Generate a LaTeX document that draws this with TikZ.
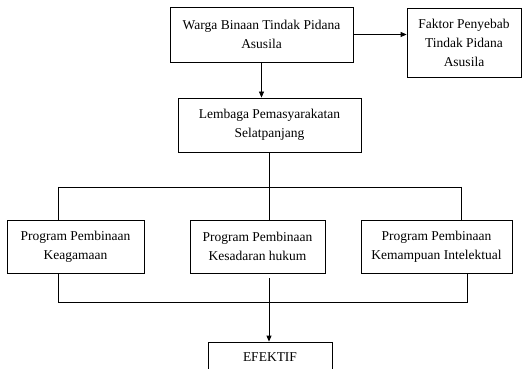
\documentclass[tikz,border=0pt]{standalone}
\usepackage{fontspec}
\setmainfont{Liberation Serif}
\usetikzlibrary{arrows.meta,calc}

\begin{document}
\begin{tikzpicture}[
  x=1pt, y=-1pt,
  box/.style ={draw, line width=0.8pt, align=center, inner sep=0pt,
               font=\fontsize{13.5}{19}\selectfont},
  e/.style   ={-{Triangle[length=6pt,width=5pt]}, line width=0.8pt},
  ln/.style  ={line width=0.8pt},
]
\useasboundingbox (0,0) rectangle (523,369);
% ---------------- top row ----------------
\node[box, minimum width=183pt, minimum height=55pt] (warga)  at (261.5,34.5) {Warga Binaan Tindak Pidana\\Asusila};
\node[box, minimum width=114pt, minimum height=69pt] (faktor) at (464,42.5)   {Faktor Penyebab\\Tindak Pidana\\Asusila};
% ---------------- lembaga ----------------
\node[box, minimum width=183pt, minimum height=54pt] (lembaga) at (269.5,125) {Lembaga Pemasyarakatan\\Selatpanjang};
% ---------------- programs ----------------
\node[box, minimum width=137pt, minimum height=53pt] (agama)  at (75.5,246.5)  {Program Pembinaan\\Keagamaan};
\node[box, minimum width=135pt, minimum height=53pt] (hukum)  at (257.5,246.5) {Program Pembinaan\\Kesadaran hukum};
\node[box, minimum width=151pt, minimum height=53pt] (intel)  at (436.5,246.5) {Program Pembinaan\\Kemampuan Intelektual};
% ---------------- result ----------------
\node[box, minimum width=124pt, minimum height=30pt] (efektif) at (270,357) {EFEKTIF};

% ---------------- bus points ----------------
\coordinate (busL)  at (58,187);
\coordinate (busR)  at (461,187);
\coordinate (joinL) at (58,302);
\coordinate (joinR) at (467,302);
\coordinate (mid)   at (269,278);

% ---------------- connectors ----------------
\draw[e]  (warga.east) -- (warga.east -| faktor.west);
\draw[e]  (warga.south) -- (warga.south |- lembaga.north);
\draw[ln] (lembaga.south) -- (lembaga.south |- busL);
\draw[ln] (busL) -- (busR);
\draw[ln] (busL) -- (busL |- agama.north);
\draw[ln] (lembaga.south |- busL) -- (lembaga.south |- hukum.north);
\draw[ln] (busR) -- (busR |- intel.north);
\draw[ln] (joinL |- agama.south) -- (joinL) -- (joinR) -- (joinR |- intel.south);
\draw[e]  (mid) -- (mid |- efektif.north);
\end{tikzpicture}
\end{document}
